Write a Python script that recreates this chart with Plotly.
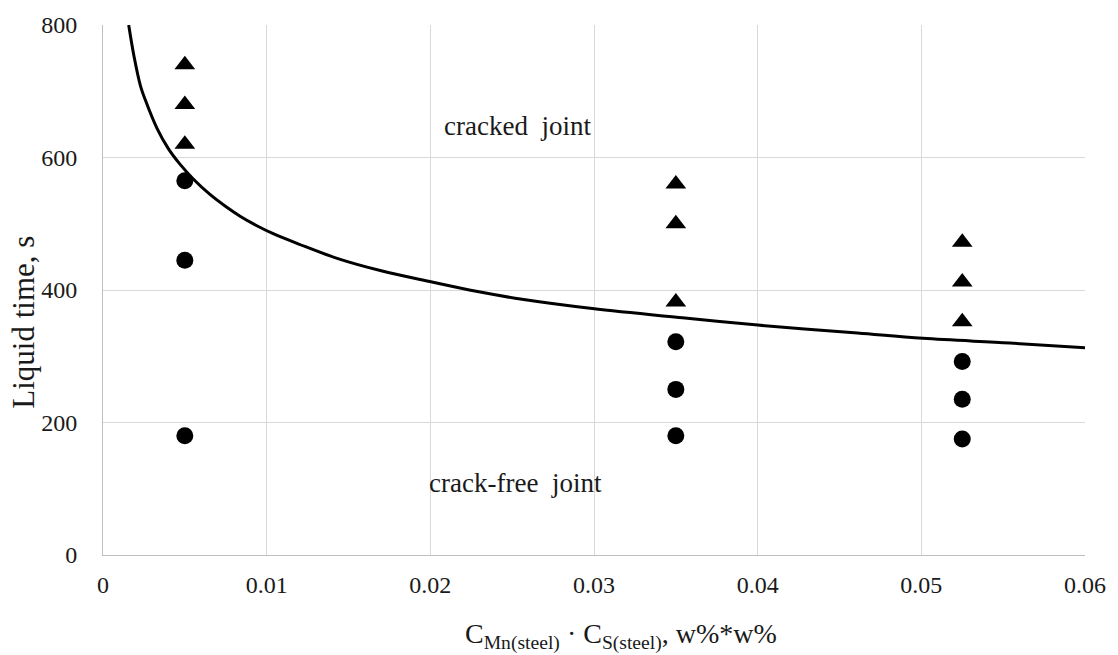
import plotly.graph_objects as go

# Liquid time vs. Mn*S product of the steel
tri_x = [0.005, 0.005, 0.005, 0.035, 0.035, 0.035, 0.0525, 0.0525, 0.0525]
tri_y = [740, 680, 620, 560, 500, 382, 472, 412, 352]

circ_x = [0.005, 0.005, 0.005, 0.035, 0.035, 0.035, 0.0525, 0.0525, 0.0525]
circ_y = [565, 445, 180, 322, 250, 180, 292, 235, 175]

# boundary between cracked and crack-free joints
curve_x = [0.00157, 0.0019, 0.00228, 0.0026, 0.0033, 0.004, 0.0047, 0.0055,
           0.0065, 0.0075, 0.0084, 0.0094, 0.0104, 0.012, 0.0144, 0.017,
           0.0201, 0.0228, 0.0256, 0.0299, 0.0354, 0.040, 0.0461, 0.0501,
           0.0554, 0.060]
curve_y = [800, 752, 709, 686, 644, 613, 590, 568,
           545, 526, 511, 497, 485, 469, 447, 429,
           412, 398, 386, 372, 358, 347, 335, 327,
           320, 313]

x_ticks = [0, 0.01, 0.02, 0.03, 0.04, 0.05, 0.06]
x_tick_text = ["0", "0.01", "0.02", "0.03", "0.04", "0.05", "0.06"]
y_ticks = [0, 200, 400, 600, 800]

FONT = "Liberation Serif, Times New Roman, serif"
INK = "#1a1a1a"
GRID = "#d9d9d9"

fig = go.Figure()
fig.add_trace(go.Scatter(
    x=curve_x, y=curve_y, mode="lines",
    line=dict(color="black", width=3, shape="spline", smoothing=1.0),
    hoverinfo="skip", showlegend=False))
fig.add_trace(go.Scatter(
    x=tri_x, y=tri_y, mode="markers",
    marker=dict(symbol="triangle-up", size=18, color="black"),
    showlegend=False))
fig.add_trace(go.Scatter(
    x=circ_x, y=circ_y, mode="markers",
    marker=dict(symbol="circle", size=17, color="black"),
    showlegend=False))

fig.add_annotation(x=0.0253, y=647, text="cracked  joint", showarrow=False,
                   font=dict(family=FONT, size=27, color=INK))
fig.add_annotation(x=0.0252, y=108, text="crack-free  joint", showarrow=False,
                   font=dict(family=FONT, size=27, color=INK))

# axis titles
fig.add_annotation(
    xref="paper", yref="paper", x=0.528, y=-0.153, showarrow=False,
    xanchor="center", yanchor="middle",
    text="C<sub>Mn(steel)</sub> · C<sub>S(steel)</sub>, w%*w%",
    font=dict(family=FONT, size=28, color=INK))
fig.add_annotation(
    xref="paper", yref="paper", x=-0.0805, y=0.44, showarrow=False,
    xanchor="center", yanchor="middle",
    textangle=-90, text="Liquid time, s",
    font=dict(family=FONT, size=31, color=INK))

fig.update_layout(
    width=1118, height=655,
    margin=dict(l=103, r=28, t=21, b=100),
    paper_bgcolor="white", plot_bgcolor="white",
    font=dict(family=FONT, color=INK),
    xaxis=dict(range=[0, 0.06], tickvals=x_ticks, ticktext=x_tick_text,
               showgrid=True, gridcolor=GRID, gridwidth=1,
               showline=True, linecolor="#bfbfbf", linewidth=1, mirror=False,
               zeroline=False, ticks="", ticklabelstandoff=8,
               tickfont=dict(family=FONT, size=24, color=INK)),
    yaxis=dict(range=[0, 800], tickvals=y_ticks,
               showgrid=True, gridcolor=GRID, gridwidth=1,
               showline=True, linecolor="#bfbfbf", linewidth=1,
               zeroline=False, ticks="", ticklabelstandoff=20,
               tickfont=dict(family=FONT, size=24, color=INK)),
)

fig.write_html("out.html")
